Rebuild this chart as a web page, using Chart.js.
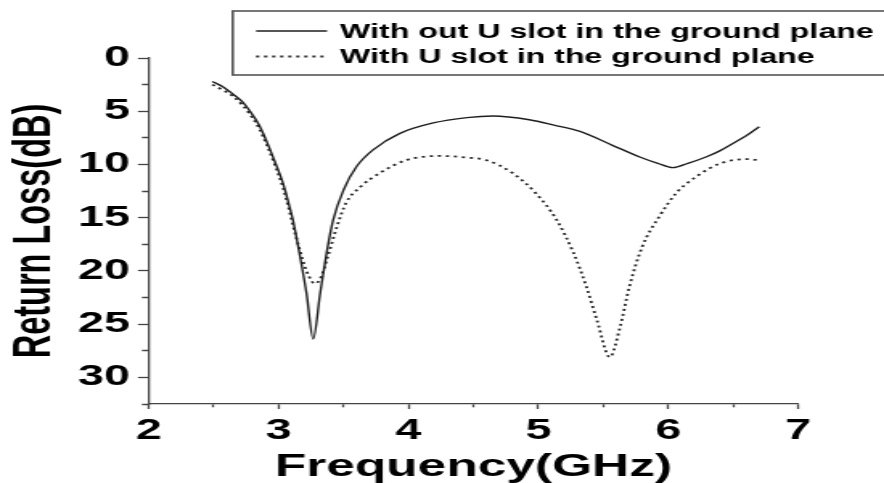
<!DOCTYPE html>
<html>
<head>
<meta charset="utf-8">
<script src="https://cdn.jsdelivr.net/npm/chart.js@4/dist/chart.umd.min.js"></script>
<style>
  html, body { margin: 0; padding: 0; background: #fff; overflow: hidden; }
  /* the plot is drawn narrow and widened on screen */
  #wrap { width: 550px; height: 483px; transform: scaleX(1.6073); transform-origin: 0 0; }
  canvas { display: block; }
</style>
</head>
<body>
<div id="wrap"><canvas id="c" width="550" height="483"></canvas></div>
<script>
// Return loss without the U slot (frequency in GHz, loss in dB)
const freqNoSlot = [2.49, 2.57, 2.65, 2.72, 2.78, 2.85, 2.91, 2.97, 3.035, 3.08, 3.11, 3.16, 3.215, 3.266,
  3.32, 3.37, 3.42, 3.50, 3.60, 3.73, 3.93, 4.19, 4.45, 4.65, 4.93, 5.12, 5.32, 5.57, 5.78, 5.92,
  6.035, 6.15, 6.29, 6.40, 6.50, 6.60, 6.70];
const lossNoSlot = [2.2, 2.7, 3.4, 4.1, 5.0, 6.3, 7.9, 9.7, 11.8, 13.8, 15.2, 18.3, 22.1, 26.4,
  22.1, 18.3, 15.2, 12.4, 10.2, 8.6, 7.1, 6.1, 5.6, 5.45, 5.8, 6.3, 6.9, 8.2, 9.3, 9.9,
  10.3, 9.9, 9.3, 8.7, 8.0, 7.3, 6.45];

// Return loss with the U slot
const freqSlot = [2.49, 2.57, 2.65, 2.72, 2.78, 2.85, 2.91, 2.97, 3.035, 3.08, 3.11, 3.16, 3.215, 3.28,
  3.33, 3.37, 3.45, 3.52, 3.63, 3.78, 3.98, 4.24, 4.45, 4.60, 4.80, 4.98, 5.14, 5.27, 5.37, 5.45,
  5.55, 5.63, 5.70, 5.80, 5.93, 6.06, 6.22, 6.40, 6.60, 6.70];
const lossSlot = [2.5, 3.0, 3.6, 4.4, 5.3, 6.6, 8.2, 10.0, 12.2, 14.2, 15.7, 17.9, 20.0, 21.2,
  20.5, 19.0, 15.8, 13.6, 12.1, 10.8, 9.6, 9.2, 9.35, 9.6, 10.8, 12.7, 15.2, 18.3, 21.5, 24.6,
  28.1, 25.2, 21.5, 17.7, 14.9, 12.7, 11.1, 9.9, 9.5, 9.6];

const seriesLabels = ['With out U slot in the ground plane', 'With U slot in the ground plane'];

// Axis ticks
const xMajorTicks = [2, 3, 4, 5, 6, 7];
const xMinorTicks = [2.5, 3.5, 4.5, 5.5, 6.5];
const yMajorTicks = [0, 5, 10, 15, 20, 25, 30];
const yMinorTicks = [2.5, 7.5, 12.5, 17.5, 22.5, 27.5, 32.5];

const FONT = "'Liberation Sans', Arial, Helvetica, sans-serif";
const AXIS = '#444';

const toPoints = (xs, ys) => xs.map((x, i) => ({ x: x, y: ys[i] }));
const tickSet = (major, minor) => major.concat(minor).sort((a, b) => a - b).map(v => ({ value: v }));
const xMajorSet = new Set(xMajorTicks);
const yMajorSet = new Set(yMajorTicks);

// Boxed legend in the upper right corner
const boxLegend = {
  id: 'boxLegend',
  afterDraw(chart) {
    const ctx = chart.ctx;
    ctx.save();
    ctx.strokeStyle = '#555';
    ctx.lineWidth = 1.6;
    ctx.strokeRect(144.8, 11, 500, 64);
    const rows = [31, 56.5];
    chart.data.datasets.forEach((ds, i) => {
      const y = rows[i];
      ctx.beginPath();
      ctx.setLineDash(ds.borderDash || []);
      ctx.strokeStyle = ds.borderColor;
      ctx.lineWidth = ds.borderWidth;
      ctx.moveTo(159.3, y);
      ctx.lineTo(203.5, y);
      ctx.stroke();
      ctx.setLineDash([]);
      ctx.fillStyle = '#000';
      ctx.font = 'bold 20px ' + FONT;
      ctx.textBaseline = 'middle';
      ctx.textAlign = 'left';
      ctx.fillText(ds.label, 211.6, y + 1);
    });
    ctx.restore();
  }
};

new Chart(document.getElementById('c'), {
  type: 'line',
  data: {
    datasets: [
      {
        label: seriesLabels[0],
        data: toPoints(freqNoSlot, lossNoSlot),
        borderColor: '#1e1e1e',
        borderWidth: 1.4,
        pointRadius: 0,
        cubicInterpolationMode: 'monotone',
        fill: false
      },
      {
        label: seriesLabels[1],
        data: toPoints(freqSlot, lossSlot),
        borderColor: '#2a2a2a',
        borderWidth: 1.8,
        borderDash: [2, 3],
        pointRadius: 0,
        cubicInterpolationMode: 'monotone',
        fill: false
      }
    ]
  },
  options: {
    responsive: false,
    devicePixelRatio: 1,
    animation: false,
    layout: { padding: { left: 0, top: 58, right: 53.4, bottom: 0 } },
    plugins: { legend: { display: false }, tooltip: { enabled: false } },
    scales: {
      x: {
        type: 'linear',
        min: 2,
        max: 7,
        afterBuildTicks: s => { s.ticks = tickSet(xMajorTicks, xMinorTicks); },
        afterFit: s => { s.height = 79; },
        border: { color: AXIS, width: 1.3 },
        grid: {
          drawOnChartArea: false,
          tickLength: 5,
          tickColor: AXIS,
          tickWidth: 1.3,
          tickBorderDash: c => (c.tick && xMajorSet.has(c.tick.value)) ? [] : [3, 100]
        },
        ticks: {
          autoSkip: false,
          maxRotation: 0,
          padding: 5,
          color: '#000',
          font: { family: FONT, size: 29, weight: 'bold' },
          callback: v => xMajorSet.has(v) ? String(v) : ''
        },
        title: {
          display: true,
          text: 'Frequency(GHz)',
          color: '#000',
          font: { family: FONT, size: 32, weight: 'bold', lineHeight: 1 },
          padding: { top: 0, bottom: 0 }
        }
      },
      y: {
        type: 'linear',
        reverse: true,
        min: 0,
        max: 32.5,
        afterBuildTicks: s => { s.ticks = tickSet(yMajorTicks, yMinorTicks); },
        afterFit: s => { s.width = 92.5; },
        border: { color: AXIS, width: 1.3 },
        grid: {
          drawOnChartArea: false,
          tickLength: 6.7,
          tickColor: AXIS,
          tickWidth: 1.3,
          tickBorderDash: c => (c.tick && yMajorSet.has(c.tick.value)) ? [] : [0, 2.5, 4.2, 100]
        },
        ticks: {
          autoSkip: false,
          padding: 5,
          color: '#000',
          font: { family: FONT, size: 29, weight: 'bold' },
          callback: v => yMajorSet.has(v) ? String(v) : ''
        },
        title: {
          display: true,
          text: 'Return Loss(dB)',
          color: '#000',
          font: { family: FONT, size: 32.5, weight: 'bold', lineHeight: 1 },
          padding: { top: 6, bottom: 0 }
        }
      }
    }
  },
  plugins: [boxLegend]
});
</script>
</body>
</html>
